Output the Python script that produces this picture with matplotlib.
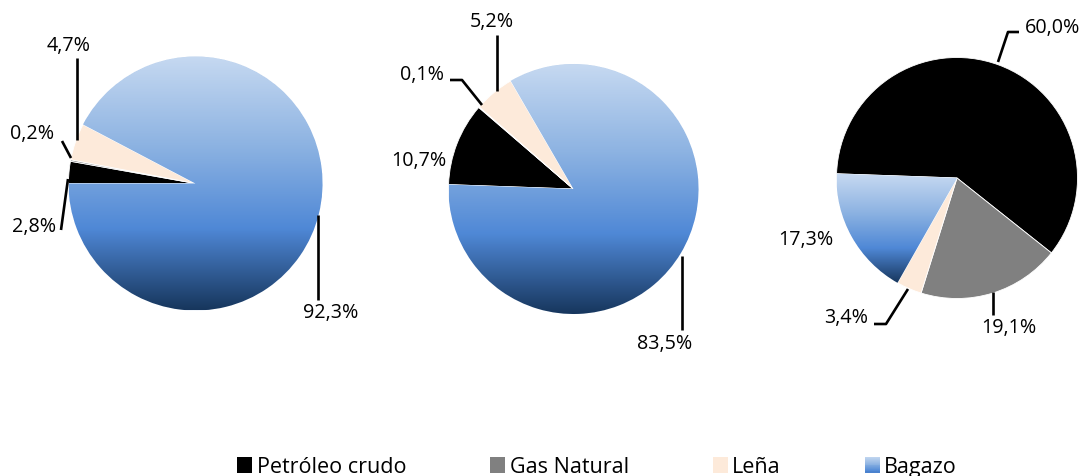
import numpy as np
import matplotlib
matplotlib.use("Agg")
import matplotlib.pyplot as plt
from matplotlib.colors import LinearSegmentedColormap
from matplotlib.patches import Patch, Rectangle
from matplotlib.legend_handler import HandlerBase

plt.rcParams['font.family'] = ['Open Sans', 'DejaVu Sans']

W, H = 1082, 477

categories = ['Petróleo crudo', 'Gas Natural', 'Leña', 'Bagazo']
slice_colors = ['#000000', '#808080', '#FDEADA', '#6A9BD8']
pie1 = [2.8, 0.2, 4.7, 92.3]
pie2 = [10.7, 0.1, 5.2, 83.5]
pie3 = [60.0, 19.1, 3.4, 17.3]

bag_cmap = LinearSegmentedColormap.from_list(
    'bagazo', [(0.0, '#C6D9F1'), (0.35, '#8DB3E2'), (0.68, '#4F88D6'), (1.0, '#17365D')])


def img(x, y):
    # picture coords (y down) -> axes coords (y up)
    return x, H - y


# pie geometry and label layout, in picture pixels
pies = [
    dict(values=pie1, center=(195.5, 184.5), r=127, start=180,
         labels=[((56, 227), 'right', [(68, 180), (61, 231)]),
                 ((54, 134), 'right', [(71, 159), (62, 142)]),
                 ((68.5, 46), 'center', [(77, 141), (77, 59)]),
                 ((330.5, 313), 'center', [(318, 216), (318, 301)])]),
    dict(values=pie2, center=(573.5, 190), r=125, start=178,
         labels=[((446, 161), 'right', None),
                 ((444, 75), 'right', [(482, 106), (462, 81), (450, 81)]),
                 ((492, 22), 'center', [(497, 92), (497, 36)]),
                 ((664.5, 344.5), 'center', [(682, 257), (682, 331)])]),
    dict(values=pie3, center=(957, 179), r=120.5, start=178,
         labels=[((1025, 28), 'left', [(998, 63), (1008, 33), (1019, 33)]),
                 ((1009, 327.5), 'center', [(993, 293), (993, 316)]),
                 ((868, 318.5), 'right', [(908, 290), (886, 325), (874, 325)]),
                 ((806, 240), 'center', None)]),
]

fig = plt.figure(figsize=(W / 100, H / 100), dpi=100)
ax = fig.add_axes([0, 0, 1, 1])

grad = np.linspace(0, 1, 256).reshape(-1, 1)

for p in pies:
    cx, cy = img(*p['center'])
    wedges, _ = ax.pie(p['values'], colors=slice_colors, startangle=p['start'],
                       counterclock=False, center=(cx, cy), radius=p['r'],
                       wedgeprops=dict(edgecolor='white', linewidth=0.6))
    bag = wedges[3]
    ext = bag.get_path().get_extents()
    im = ax.imshow(grad, cmap=bag_cmap, extent=(ext.x0, ext.x1, ext.y0, ext.y1),
                   origin='upper', aspect='auto', interpolation='bilinear',
                   zorder=bag.get_zorder() + 0.1)
    im.set_clip_path(bag)

    for v, (txy, ha, path) in zip(p['values'], p['labels']):
        s = f"{v:.1f}%".replace('.', ',')
        ax.text(*img(*txy), s, ha=ha, va='center', fontsize=14.2, color='black')
        if path:
            xs, ys = zip(*[img(*q) for q in path])
            ax.plot(xs, ys, color='black', lw=1.9, solid_capstyle='butt', zorder=5)

ax.set_xlim(0, W)
ax.set_ylim(0, H)
ax.set_aspect('equal')
ax.axis('off')


class GradientHandler(HandlerBase):
    def create_artists(self, legend, orig_handle, xdescent, ydescent,
                       width, height, fontsize, trans):
        n = 16
        arts = []
        for i in range(n):
            c = bag_cmap(0.05 + 0.65 * i / (n - 1))
            y0 = -ydescent + height * (1 - (i + 1) / n)
            arts.append(Rectangle((-xdescent, y0), width, height / n + 0.3,
                                  facecolor=c, edgecolor='none', transform=trans))
        return arts


handles = [Patch(facecolor=c, edgecolor='none') for c in slice_colors]
hmap = {handles[3]: GradientHandler()}
fig.legend(handles, categories, loc='center', bbox_to_anchor=(597 / W, 1 - 468 / H),
           ncol=4, frameon=False, fontsize=15.5, handlelength=0.7, handleheight=0.7,
           handletextpad=0.2, columnspacing=3.9, handler_map=hmap)

fig.savefig('out.png', dpi=100)
